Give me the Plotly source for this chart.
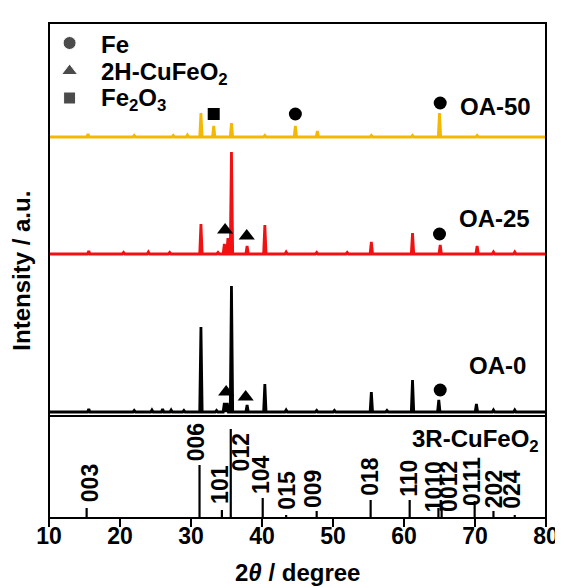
import plotly.graph_objects as go

# ---------------- data ----------------
# Upper panel: peak positions (2theta, deg) and heights (a.u.) per sample
oa0_pos = [15.6, 22.0, 24.5, 26.0, 27.2, 29.0, 31.4, 33.6, 34.7, 35.1, 35.7, 37.9, 40.4, 43.4, 47.7, 50.2, 55.4, 57.6, 61.2, 64.9, 70.2, 72.6, 75.6]
oa0_int = [3, 1.5, 2, 3, 2, 1.5, 85, 1.5, 9, 9, 126, 7, 28, 2, 1.5, 1.5, 20, 1.5, 32, 12, 8, 2, 2]
oa25_pos = [15.6, 20.5, 24.0, 27.0, 31.4, 33.8, 34.7, 35.2, 35.7, 37.9, 40.4, 43.4, 47.7, 52.0, 55.4, 61.2, 65.1, 70.3, 72.6, 75.6]
oa25_int = [3, 1.5, 2, 1.5, 30, 1.5, 10, 16, 102, 8, 29, 2, 1.5, 1.5, 12, 21, 9, 8, 2, 2]
oa50_pos = [15.5, 22.0, 27.5, 29.5, 31.4, 33.2, 35.7, 40.4, 44.7, 47.8, 55.4, 61.2, 65.0, 70.3]
oa50_int = [3, 1.5, 1.5, 2, 24, 11, 14, 1.5, 11, 6, 1.5, 1.5, 24, 1.5]
offsets = {"OA-0": 4, "OA-25": 162, "OA-50": 279}
colors = {"OA-0": "#000000", "OA-25": "#F21010", "OA-50": "#F5B800"}

# phase markers (2theta, y in upper-panel units)
fe_x = [44.7, 65.1, 65.0, 65.1]
fe_y = [302, 313, 182, 26]
h2_x = [34.8, 37.85, 34.95, 37.7]
h2_y = [186, 180, 24, 19]
fe2o3_x = [33.2]
fe2o3_y = [302]

# Lower panel: 3R-CuFeO2 reference sticks
ref_pos = [15.3, 31.2, 34.35, 35.6, 40.1, 43.4, 47.7, 55.3, 60.8, 64.85, 65.3, 69.95, 72.6, 75.6]
ref_int = [10, 53, 8, 89, 20, 3, 7, 18, 18, 10, 10, 17, 7, 3]
ref_hkl = ["003", "006", "101", "012", "104", "015", "009", "018", "110", "1010", "0012", "0111", "202", "024"]
# label anchor (2theta, bottom y) for each hkl label
lab_x = [15.8, 30.75, 34.0, 37.1, 39.8, 43.4, 47.2, 55.1, 60.6, 64.2, 66.25, 69.5, 72.7, 75.1]
lab_y = [14, 55, 12, 45, 22, 6, 8, 20, 19, 4, 4, 10, 8, 7]

x_ticks = [10, 20, 30, 40, 50, 60, 70, 80]

FONT = "Liberation Sans, Arial, sans-serif"

def pattern(pos, inten, base, w=0.17):
    xs, ys = [10.0], [base]
    for p, h in sorted(zip(pos, inten)):
        xs += [p - w, p, p + w]
        ys += [base, base + h, base]
    xs.append(80.0)
    ys.append(base)
    return xs, ys

fig = go.Figure()

for name, pos, inten in [("OA-0", oa0_pos, oa0_int), ("OA-25", oa25_pos, oa25_int), ("OA-50", oa50_pos, oa50_int)]:
    xs, ys = pattern(pos, inten, offsets[name])
    fig.add_trace(go.Scatter(x=xs, y=ys, mode="lines", line=dict(color=colors[name], width=2.8),
                             xaxis="x2", yaxis="y2", showlegend=False, hoverinfo="skip"))

fig.add_trace(go.Scatter(x=fe_x, y=fe_y, mode="markers", marker=dict(symbol="circle", size=13, color="black"),
                         xaxis="x2", yaxis="y2", showlegend=False))
fig.add_trace(go.Scatter(x=h2_x, y=h2_y, mode="markers", marker=dict(symbol="triangle-up", size=14, color="black"),
                         xaxis="x2", yaxis="y2", showlegend=False))
fig.add_trace(go.Scatter(x=fe2o3_x, y=fe2o3_y, mode="markers", marker=dict(symbol="square", size=12, color="black"),
                         xaxis="x2", yaxis="y2", showlegend=False))

# legend markers (drawn in upper panel)
leg_x = [12.9, 12.9, 12.9]
leg_y = [373, 345, 318]
leg_sym = ["circle", "triangle-up", "square"]
leg_size = [13, 14, 12]
leg_txt = ["<b>Fe</b>", "<b>2H-CuFeO<sub>2</sub></b>", "<b>Fe<sub>2</sub>O<sub>3</sub></b>"]
leg_ty = [372, 343, 317]
fig.add_trace(go.Scatter(x=leg_x, y=leg_y, mode="markers",
                         marker=dict(symbol=leg_sym, size=leg_size, color="black"),
                         xaxis="x2", yaxis="y2", showlegend=False))

# reference sticks
sx, sy = [], []
for p, h in zip(ref_pos, ref_int):
    sx += [p, p, None]
    sy += [0, h, None]
fig.add_trace(go.Scatter(x=sx, y=sy, mode="lines", line=dict(color="black", width=2.2),
                         xaxis="x", yaxis="y", showlegend=False, hoverinfo="skip"))

# invisible trace so the tick-label axis is drawn
fig.add_trace(go.Scatter(x=[10, 80], y=[0, 0], mode="markers", marker=dict(opacity=0),
                         xaxis="x3", yaxis="y", showlegend=False, hoverinfo="skip"))

ann = []
for t, x, y in zip(leg_txt, [17.0] * 3, leg_ty):
    ann.append(dict(x=x, y=y, xref="x2", yref="y2", text=t, showarrow=False, xanchor="left", yanchor="middle",
                    font=dict(size=24, color="black", family=FONT)))
for name, x, y in [("OA-50", 78.2, 310), ("OA-25", 78.05, 198), ("OA-0", 77.4, 51)]:
    ann.append(dict(x=x, y=y, xref="x2", yref="y2", text="<b>%s</b>" % name, showarrow=False,
                    xanchor="right", yanchor="middle", font=dict(size=24, color="black", family=FONT)))
for t, x, y in zip(ref_hkl, lab_x, lab_y):
    ann.append(dict(x=x, y=y, xref="x", yref="y", text="<b>%s</b>" % t, showarrow=False, textangle=-90,
                    xanchor="center", yanchor="bottom", font=dict(size=23, color="black", family=FONT)))
ann.append(dict(x=79.3, y=78, xref="x", yref="y", text="<b>3R-CuFeO<sub>2</sub></b>", showarrow=False,
                xanchor="right", yanchor="middle", font=dict(size=24, color="black", family=FONT)))
ann.append(dict(x=-0.056, y=0.5, xref="paper", yref="paper", text="<b>Intensity / a.u.</b>", showarrow=False,
                textangle=-90, xanchor="center", yanchor="middle", font=dict(size=24, color="black", family=FONT)))
ann.append(dict(x=0.5, y=-0.111, xref="paper", yref="paper", text="<b>2<i>θ</i> / degree</b>", showarrow=False,
                xanchor="center", yanchor="middle", font=dict(size=24, color="black", family=FONT)))

split = 102 / 495.0
fig.update_layout(
    width=563, height=587,
    margin=dict(l=41, r=17, t=15, b=77),
    paper_bgcolor="white", plot_bgcolor="white",
    font=dict(family=FONT, color="black"),
    xaxis=dict(range=[10, 80], tickvals=x_ticks, showticklabels=False,
               ticks="outside", ticklen=8, tickwidth=2, tickcolor="black",
               showline=False, showgrid=False, zeroline=False, anchor="y"),
    xaxis3=dict(range=[10, 80], tickvals=x_ticks, ticktext=["<b>%d</b>" % v for v in x_ticks],
                overlaying="x", anchor="y", side="bottom", ticks="", ticklabelstandoff=2,
                showline=False, showgrid=False, zeroline=False,
                tickfont=dict(size=23, family=FONT, color="black")),
    yaxis=dict(domain=[0, split], range=[0, 102], visible=False, anchor="x"),
    xaxis2=dict(range=[10, 80], matches="x", anchor="y2", visible=False),
    yaxis2=dict(domain=[split, 1], range=[0, 393], visible=False, anchor="x2"),
    annotations=ann,
    shapes=[
        dict(type="rect", xref="paper", yref="paper", x0=0, y0=0, x1=1, y1=1, line=dict(color="black", width=2)),
        dict(type="line", xref="paper", yref="paper", x0=0, y0=split, x1=1, y1=split, line=dict(color="black", width=2)),
    ],
)

fig.write_html("out.html")
